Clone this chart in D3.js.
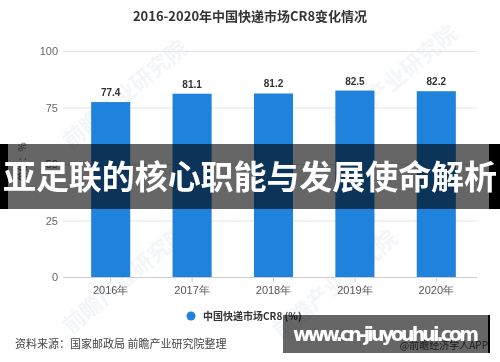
<!DOCTYPE html>
<html>
<head>
<meta charset="utf-8">
<script src="https://cdn.jsdelivr.net/npm/d3@7"></script>
<style>
  body { margin: 0; background: #fff; }
  svg { display: block; font-family: "Noto Sans CJK SC", "Noto Sans", sans-serif; }
</style>
</head>
<body>
<div id="chart"></div>
<script>
var years = ["2016年", "2017年", "2018年", "2019年", "2020年"];
var cr8 = [77.4, 81.1, 81.2, 82.5, 82.2];
var yTicks = [0, 25, 50, 75, 100];

var width = 500, height = 362;
var svg = d3.select("#chart").append("svg")
    .attr("width", width)
    .attr("height", height);

var x = d3.scaleBand()
    .domain(years)
    .range([70, 477])
    .paddingInner(0.52)
    .paddingOuter(0.26);

var y = d3.scaleLinear()
    .domain([0, 100])
    .range([277, 51]);

// faint watermark logos
var wm = svg.append("g").attr("fill", "#e4e9ef").attr("opacity", 0.45)
    .style("font-weight", "bold").style("font-size", "22px");
[[130, 100], [400, 85], [130, 285], [340, 290]].forEach(function(p) {
  wm.append("text")
      .attr("transform", "translate(" + p[0] + "," + p[1] + ") rotate(-40)")
      .attr("text-anchor", "middle")
      .text("前瞻产业研究院");
});

svg.append("text")
    .attr("x", 250)
    .attr("y", 21)
    .attr("text-anchor", "middle")
    .attr("fill", "#333")
    .style("font-size", "13px")
    .style("font-weight", "bold")
    .text("2016-2020年中国快递市场CR8变化情况");

// gridlines and y labels
var grid = svg.append("g");
grid.selectAll("line")
    .data(yTicks.filter(function(d) { return d > 0; }))
  .enter().append("line")
    .attr("x1", 63).attr("x2", 477)
    .attr("y1", function(d) { return y(d) + 0.5; })
    .attr("y2", function(d) { return y(d) + 0.5; })
    .attr("stroke", "#e3e3e3");

svg.append("g")
    .attr("transform", "translate(60,0)")
    .call(d3.axisLeft(y).tickValues(yTicks).tickSize(0).tickPadding(2))
    .call(function(g) {
      g.select(".domain").remove();
      g.selectAll("text").attr("fill", "#666").style("font-size", "11px")
          .style("font-family", "Liberation Sans, Arial, sans-serif");
    });

svg.append("text")
    .attr("transform", "translate(26,162) rotate(-90)")
    .attr("text-anchor", "middle")
    .attr("fill", "#666")
    .style("font-size", "10px")
    .text("单位：%");

// bars
svg.selectAll(".bar")
    .data(cr8)
  .enter().append("rect")
    .attr("class", "bar")
    .attr("x", function(d, i) { return x(years[i]); })
    .attr("y", function(d) { return y(d); })
    .attr("width", x.bandwidth())
    .attr("height", function(d) { return y(0) - y(d); })
    .attr("fill", "#1f82dc");

svg.selectAll(".val")
    .data(cr8)
  .enter().append("text")
    .attr("class", "val")
    .attr("x", function(d, i) { return x(years[i]) + x.bandwidth() / 2; })
    .attr("y", function(d) { return y(d) - 6; })
    .attr("text-anchor", "middle")
    .attr("fill", "#333")
    .style("font-size", "10px")
    .style("font-weight", "bold")
    .style("font-family", "Liberation Sans, Arial, sans-serif")
    .text(function(d) { return d.toFixed(1); });

// x axis
svg.append("g")
    .attr("transform", "translate(0," + y(0) + ")")
    .call(d3.axisBottom(x).tickSize(5).tickPadding(4).tickSizeOuter(0))
    .call(function(g) {
      g.select(".domain").attr("stroke", "#ccc").attr("d", "M63,0.5H477");
      g.selectAll(".tick line").attr("stroke", "#ccc");
      g.selectAll("text").attr("fill", "#555").style("font-size", "11px");
    });

// legend
svg.append("circle")
    .attr("cx", 191).attr("cy", 316).attr("r", 4.5)
    .attr("fill", "#1f82dc");
svg.append("text")
    .attr("x", 203).attr("y", 320)
    .attr("fill", "#333")
    .style("font-size", "10px")
    .style("font-weight", "bold")
    .text("中国快递市场CR8 (%)");

// footer
svg.append("text")
    .attr("x", 15).attr("y", 348)
    .attr("fill", "#444")
    .style("font-size", "11px")
    .text("资料来源：国家邮政局 前瞻产业研究院整理");
svg.append("text")
    .attr("x", 488).attr("y", 349)
    .attr("text-anchor", "end")
    .attr("fill", "#444")
    .style("font-size", "10px")
    .text("@前瞻经济学人APP");

// overlay banner
svg.append("rect").attr("x", 0).attr("y", 144).attr("width", 500).attr("height", 65)
    .attr("fill", "#000").attr("opacity", 0.6);
svg.append("rect").attr("x", 0).attr("y", 144).attr("width", 8).attr("height", 65).attr("fill", "#000");
svg.append("rect").attr("x", 489).attr("y", 144).attr("width", 11).attr("height", 65).attr("fill", "#000");
svg.append("text")
    .attr("x", 250).attr("y", 189)
    .attr("text-anchor", "middle")
    .attr("fill", "#fff")
    .style("font-size", "33px")
    .style("font-weight", "bold")
    .attr("textLength", 494)
    .text("亚足联的核心职能与发展使命解析");

// site watermark box
svg.append("rect").attr("x", 283).attr("y", 315).attr("width", 205).attr("height", 38)
    .attr("fill", "#000").attr("opacity", 0.6);
svg.append("rect").attr("x", 488).attr("y", 315).attr("width", 2).attr("height", 38).attr("fill", "#000");
svg.append("text")
    .attr("x", 386).attr("y", 341)
    .attr("text-anchor", "middle")
    .attr("fill", "#fff")
    .style("font-size", "19px")
    .style("font-weight", "bold")
    .style("font-family", "DejaVu Sans, sans-serif")
    .attr("textLength", 186)
    .text("www.cn-jiuyouhui.com");
</script>
</body>
</html>
